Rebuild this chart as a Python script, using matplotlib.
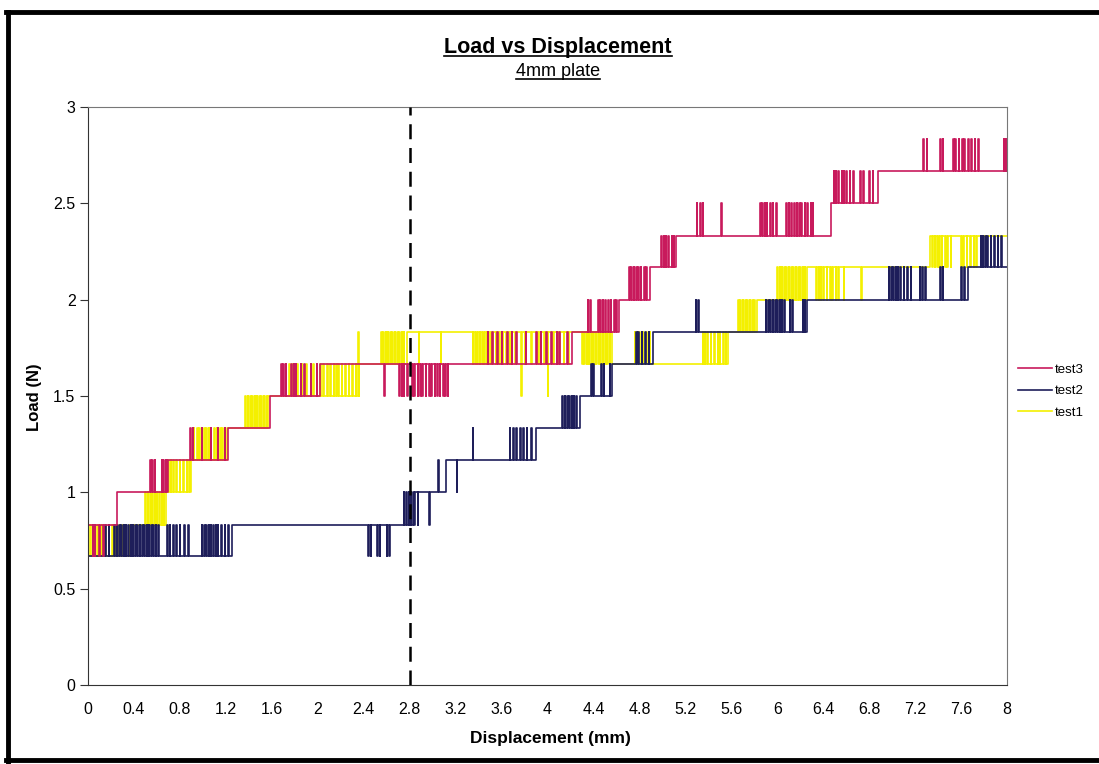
# Load vs Displacement, 4mm plate - three tests, quantised load steps
import numpy as np
import matplotlib
matplotlib.use('Agg')
import matplotlib.pyplot as plt
from matplotlib.lines import Line2D

plt.rcParams['font.family'] = ['Liberation Sans', 'DejaVu Sans']

# ---- data (displacement in mm, load in N) ----
x_ticks = [0, 0.4, 0.8, 1.2, 1.6, 2, 2.4, 2.8, 3.2, 3.6, 4, 4.4, 4.8, 5.2, 5.6,
           6, 6.4, 6.8, 7.2, 7.6, 8]
y_ticks = [0, 0.5, 1, 1.5, 2, 2.5, 3]
marker_x = 2.8

# test3: base level changes and flicker spikes (target load, positions)
test3_step_x = [0, 0.25, 0.70, 1.22, 1.58, 2.02, 4.21, 4.62, 4.89, 5.12, 6.47, 6.88]
test3_step_load = [0.833, 1.0, 1.167, 1.333, 1.5, 1.667, 1.833, 2.0, 2.167, 2.333, 2.5, 2.667]
test3_spikes = [
    (0.667, [0.04, 0.06, 0.10, 0.13]),
    (1.167, [0.54, 0.56, 0.58, 0.64, 0.65, 0.67, 0.68]),
    (1.333, [0.89, 0.91, 0.99, 1.07, 1.13, 1.19]),
    (1.667, [1.68, 1.70, 1.72, 1.77, 1.79, 1.81, 1.85, 1.88, 1.94, 1.99]),
    (1.5, [2.58, 2.71, 2.73, 2.75, 2.78, 2.82, 2.84, 2.87, 2.89, 2.91, 2.94, 2.97,
           2.99, 3.02, 3.04, 3.06, 3.09, 3.11, 3.13]),
    (1.833, [3.48, 3.52, 3.56, 3.60, 3.65, 3.69, 3.73, 3.81, 3.90, 3.94, 3.99, 4.03,
             4.08, 4.10, 4.17]),
    (2.0, [4.35, 4.37, 4.44, 4.46, 4.48, 4.50, 4.53, 4.55, 4.58, 4.60]),
    (2.167, [4.71, 4.73, 4.75, 4.77, 4.79, 4.81, 4.84, 4.86]),
    (2.333, [4.99, 5.01, 5.03, 5.05, 5.08, 5.10]),
    (2.5, [5.30, 5.33, 5.35, 5.51, 5.85, 5.87, 5.89, 5.91, 5.94, 5.96, 5.99, 6.08,
           6.10, 6.12, 6.15, 6.17, 6.19, 6.21, 6.24, 6.26, 6.29, 6.31]),
    (2.667, [6.49, 6.51, 6.53, 6.56, 6.58, 6.60, 6.63, 6.66, 6.72, 6.75, 6.80, 6.83]),
    (2.833, [7.27, 7.30, 7.42, 7.44, 7.53, 7.55, 7.58, 7.61, 7.63, 7.66, 7.69, 7.72,
             7.75, 7.97, 7.99]),
]

# test2
test2_step_x = [0, 1.25, 2.85, 3.12, 3.90, 4.28, 4.56, 4.92, 6.26, 7.66]
test2_step_load = [0.667, 0.833, 1.0, 1.167, 1.333, 1.5, 1.667, 1.833, 2.0, 2.167]
test2_spikes = [
    (0.833, [0.15, 0.18, 0.23, 0.25, 0.27, 0.29, 0.31, 0.33, 0.35, 0.37, 0.39, 0.41,
             0.43, 0.45, 0.47, 0.49, 0.51, 0.53, 0.55, 0.57, 0.59, 0.61, 0.69, 0.71,
             0.74, 0.77, 0.80, 0.84, 0.87, 0.99, 1.01, 1.03, 1.05, 1.07, 1.09, 1.11,
             1.13, 1.16, 1.19, 1.22]),
    (0.667, [2.44, 2.46, 2.52, 2.54, 2.60, 2.62]),
    (1.0, [2.75, 2.77, 2.79, 2.81, 2.83, 3.21]),
    (0.833, [2.87, 2.97]),
    (1.167, [3.05]),
    (1.333, [3.35, 3.67, 3.70, 3.73, 3.76, 3.79, 3.82, 3.86]),
    (1.5, [4.13, 4.15, 4.17, 4.19, 4.21, 4.23, 4.25]),
    (1.667, [4.38, 4.40, 4.47, 4.49, 4.54]),
    (1.833, [4.77, 4.79, 4.82, 4.85, 4.88]),
    (2.0, [5.29, 5.31, 5.90, 5.92, 5.94, 5.96, 5.98, 6.00, 6.02, 6.04, 6.06, 6.11,
           6.13, 6.22, 6.24]),
    (2.167, [6.97, 6.99, 7.01, 7.03, 7.05, 7.07, 7.10, 7.13, 7.16, 7.24, 7.26, 7.29,
             7.42, 7.44, 7.60, 7.63]),
    (2.333, [7.77, 7.79, 7.81, 7.83, 7.86, 7.89, 7.92, 7.95]),
]

# test1
test1_step_x = [0, 0.38, 0.68, 0.90, 1.21, 1.57, 2.36, 2.78, 4.56, 5.57, 5.82, 6.26, 7.33]
test1_step_load = [0.667, 0.833, 1.0, 1.167, 1.333, 1.5, 1.667, 1.833, 1.667, 1.833,
                   2.0, 2.167, 2.333]
test1_spikes = [
    (0.833, [0.02, 0.04, 0.06, 0.08, 0.10, 0.12, 0.15, 0.18, 0.21, 0.24, 0.27, 0.30,
             0.33, 0.36]),
    (1.0, [0.50, 0.52, 0.54, 0.56, 0.58, 0.60, 0.62, 0.64, 0.66]),
    (1.167, [0.70, 0.72, 0.74, 0.77, 0.80, 0.83, 0.86, 0.88]),
    (1.333, [0.92, 0.95, 0.97, 1.01, 1.03, 1.05, 1.10, 1.12, 1.15, 1.17, 1.19]),
    (1.5, [1.37, 1.39, 1.41, 1.43, 1.45, 1.47, 1.49, 1.51, 1.53, 1.55]),
    (1.667, [1.72, 1.75, 1.78, 1.82, 1.86, 1.90, 1.96, 2.02, 2.05, 2.08, 2.11, 2.14,
             2.16, 2.18, 2.21, 2.24, 2.27, 2.30, 2.33]),
    (1.833, [2.35, 2.55, 2.57, 2.59, 2.61, 2.63, 2.65, 2.67, 2.69, 2.71, 2.73, 2.75]),
    (1.667, [2.88, 3.07, 3.35, 3.37, 3.39, 3.41, 3.43, 3.45, 3.47, 3.50, 3.52, 3.55,
             3.58, 3.61, 3.64, 3.67, 3.72, 3.80, 3.86, 3.92, 3.97, 4.05, 4.10, 4.14,
             4.18, 4.30, 4.32, 4.34, 4.36, 4.38, 4.40, 4.42, 4.44, 4.46, 4.48, 4.50,
             4.52, 4.54]),
    (1.5, [3.77, 4.00]),
    (1.833, [4.76, 4.78, 4.80, 4.83, 4.86, 4.89, 5.35, 5.37, 5.39, 5.42, 5.45, 5.48,
             5.50, 5.53, 5.55]),
    (2.0, [5.66, 5.68, 5.70, 5.72, 5.74, 5.76, 5.78, 5.80]),
    (2.167, [6.00, 6.02, 6.04, 6.06, 6.08, 6.10, 6.12, 6.14, 6.16, 6.18, 6.20, 6.22, 6.24]),
    (2.0, [6.34, 6.36, 6.38, 6.40, 6.43, 6.46, 6.48, 6.51, 6.53, 6.58, 6.73]),
    (2.167, [7.35, 7.37, 7.39, 7.41, 7.43, 7.46, 7.48, 7.51, 7.60, 7.62, 7.65, 7.68,
             7.71, 7.73]),
]


def build_series(step_x, step_load, spikes, x_end=8.0, w=0.005):
    # turn base steps + spike list into one x/y polyline
    events = [(x, 0, l) for x, l in zip(step_x, step_load)]
    for l, xs in spikes:
        events += [(x, 1, l) for x in xs]
    events.sort()
    xs_out, ys_out = [], []
    cur = step_load[0]
    for x, kind, l in events:
        if kind == 0:
            xs_out += [x, x]
            ys_out += [cur, l]
            cur = l
        else:
            xs_out += [x, x, x + w, x + w]
            ys_out += [cur, l, l, cur]
    xs_out.append(x_end)
    ys_out.append(cur)
    return np.array(xs_out), np.array(ys_out)


x1, y1 = build_series(test1_step_x, test1_step_load, test1_spikes)
x2, y2 = build_series(test2_step_x, test2_step_load, test2_spikes)
x3, y3 = build_series(test3_step_x, test3_step_load, test3_spikes)

W, H = 1099, 764
fig = plt.figure(figsize=(W / 100, H / 100), dpi=100)
fig.patch.set_facecolor('white')
ax = fig.add_axes([88 / W, 1 - 685 / H, (1007 - 88) / W, (685 - 107) / H])

l1, = ax.plot(x1, y1, color='#F4F000', lw=1.2, label='test1')
l2, = ax.plot(x2, y2, color='#1E1E5A', lw=1.2, label='test2')
l3, = ax.plot(x3, y3, color='#C81A5C', lw=1.2, label='test3')
ax.axvline(marker_x, color='black', lw=1.8, ls=(0, (6, 3.5)), zorder=5)

ax.set_xlim(0, 8)
ax.set_ylim(0, 3)
ax.set_xticks(x_ticks)
ax.set_xticklabels([f'{t:g}' for t in x_ticks])
ax.set_yticks(y_ticks)
ax.set_yticklabels([f'{t:g}' for t in y_ticks])
ax.tick_params(axis='x', length=0, pad=12, labelsize=11.5)
ax.tick_params(axis='y', length=6, direction='out', pad=3, labelsize=11.5, color='#333333')
for s in ['left', 'bottom']:
    ax.spines[s].set_color('#333333')
for s in ['top', 'right']:
    ax.spines[s].set_color('#777777')

fig.text(550 / W, 1 - 738 / H, 'Displacement (mm)', ha='center', va='center',
         fontsize=12.5, fontweight='bold')
fig.text(35 / W, 1 - 397 / H, 'Load (N)', ha='center', va='center', rotation=90,
         fontsize=12, fontweight='bold')

t1 = fig.text(558 / W, 1 - 53 / H, 'Load vs Displacement', ha='center', va='baseline',
              fontsize=15.5, fontweight='bold')
t2 = fig.text(558 / W, 1 - 76 / H, '4mm plate', ha='center', va='baseline', fontsize=13)

fig.legend(handles=[l3, l2, l1], loc='center left', bbox_to_anchor=(1018 / W, 1 - 391 / H),
           frameon=False, fontsize=9.5, handlelength=2.6, handletextpad=0.2,
           labelspacing=0.7, borderpad=0, borderaxespad=0)

# underline the titles
fig.canvas.draw()
rend = fig.canvas.get_renderer()
for t, ybase in [(t1, 53), (t2, 76)]:
    bb = t.get_window_extent(rend)
    yy = 1 - (ybase + 3) / H
    fig.add_artist(Line2D([bb.x0 / W, bb.x1 / W], [yy, yy], color='black', lw=1.2,
                          transform=fig.transFigure))

# scanned page frame
fig.add_artist(Line2D([8 / W, 8 / W], [0, 1 - 12 / H], color='black', lw=3.5,
                      transform=fig.transFigure))
fig.add_artist(Line2D([6 / W, 1], [1 - 12 / H, 1 - 12 / H], color='black', lw=3.5,
                      transform=fig.transFigure))
fig.add_artist(Line2D([6 / W, 1], [1 - 760 / H, 1 - 760 / H], color='black', lw=3.5,
                      transform=fig.transFigure))

fig.savefig('out.png', dpi=100)
